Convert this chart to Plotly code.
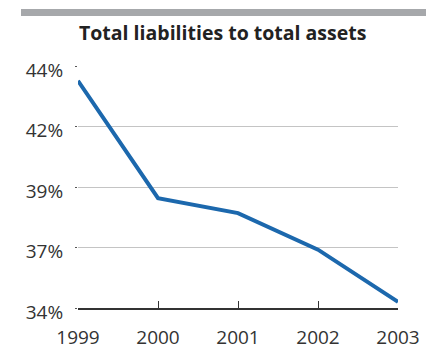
import plotly.graph_objects as go

years = [1999, 2000, 2001, 2002, 2003]
ratio_pct = [43.39, 38.54, 37.92, 36.41, 34.25]

y_ticks = [34, 36.5, 39, 41.5, 44]
y_tick_text = [f"{round(v + 1e-9):d}%" for v in y_ticks]

W, H = 438, 351
M_L, M_R, M_T, M_B = 78, 40, 66, 43
plot_w = W - M_L - M_R
plot_h = H - M_T - M_B


def px_to_paper_x(px):
    return (px - M_L) / plot_w


def px_to_paper_y(py):
    return (H - M_B - py) / plot_h


fig = go.Figure()
fig.add_trace(go.Scatter(
    x=years, y=ratio_pct, mode="lines",
    line=dict(color="#1c68ad", width=4),
    cliponaxis=False, hoverinfo="skip",
))

font_family = "Open Sans, DejaVu Sans, sans-serif"

fig.update_layout(
    width=W, height=H,
    margin=dict(l=M_L, r=M_R, t=M_T, b=M_B, autoexpand=False),
    paper_bgcolor="white", plot_bgcolor="white",
    showlegend=False,
    font=dict(family=font_family, size=19, color="#333333"),
    xaxis=dict(
        range=[1999, 2003], tickvals=years, ticktext=[str(y) for y in years],
        showgrid=False, zeroline=False, automargin=False,
        showline=True, linecolor="#333333", linewidth=2,
        ticks="inside", ticklen=7, tickwidth=1, tickcolor="#333333",
        ticklabelstandoff=11,
    ),
    yaxis=dict(
        range=[34, 44], tickvals=y_ticks, ticktext=y_tick_text,
        showgrid=True, gridcolor="#c4c4c4", gridwidth=1,
        zeroline=False, showline=False, automargin=False,
        ticks="outside", ticklen=2, tickwidth=1, tickcolor="#555555",
        ticklabelstandoff=8, ticklabelshift=4,
    ),
    shapes=[dict(
        type="rect", xref="paper", yref="paper",
        x0=px_to_paper_x(21), x1=px_to_paper_x(426),
        y0=px_to_paper_y(16), y1=px_to_paper_y(9),
        fillcolor="#a6a8ab", line=dict(width=0),
    )],
    annotations=[dict(
        text="<b>Total liabilities to total assets</b>",
        xref="paper", yref="paper",
        x=px_to_paper_x(222.5), y=px_to_paper_y(32),
        xanchor="center", yanchor="middle", showarrow=False,
        font=dict(family=font_family, size=19.5, color="#222222"),
    )],
)

fig.write_html("out.html")
